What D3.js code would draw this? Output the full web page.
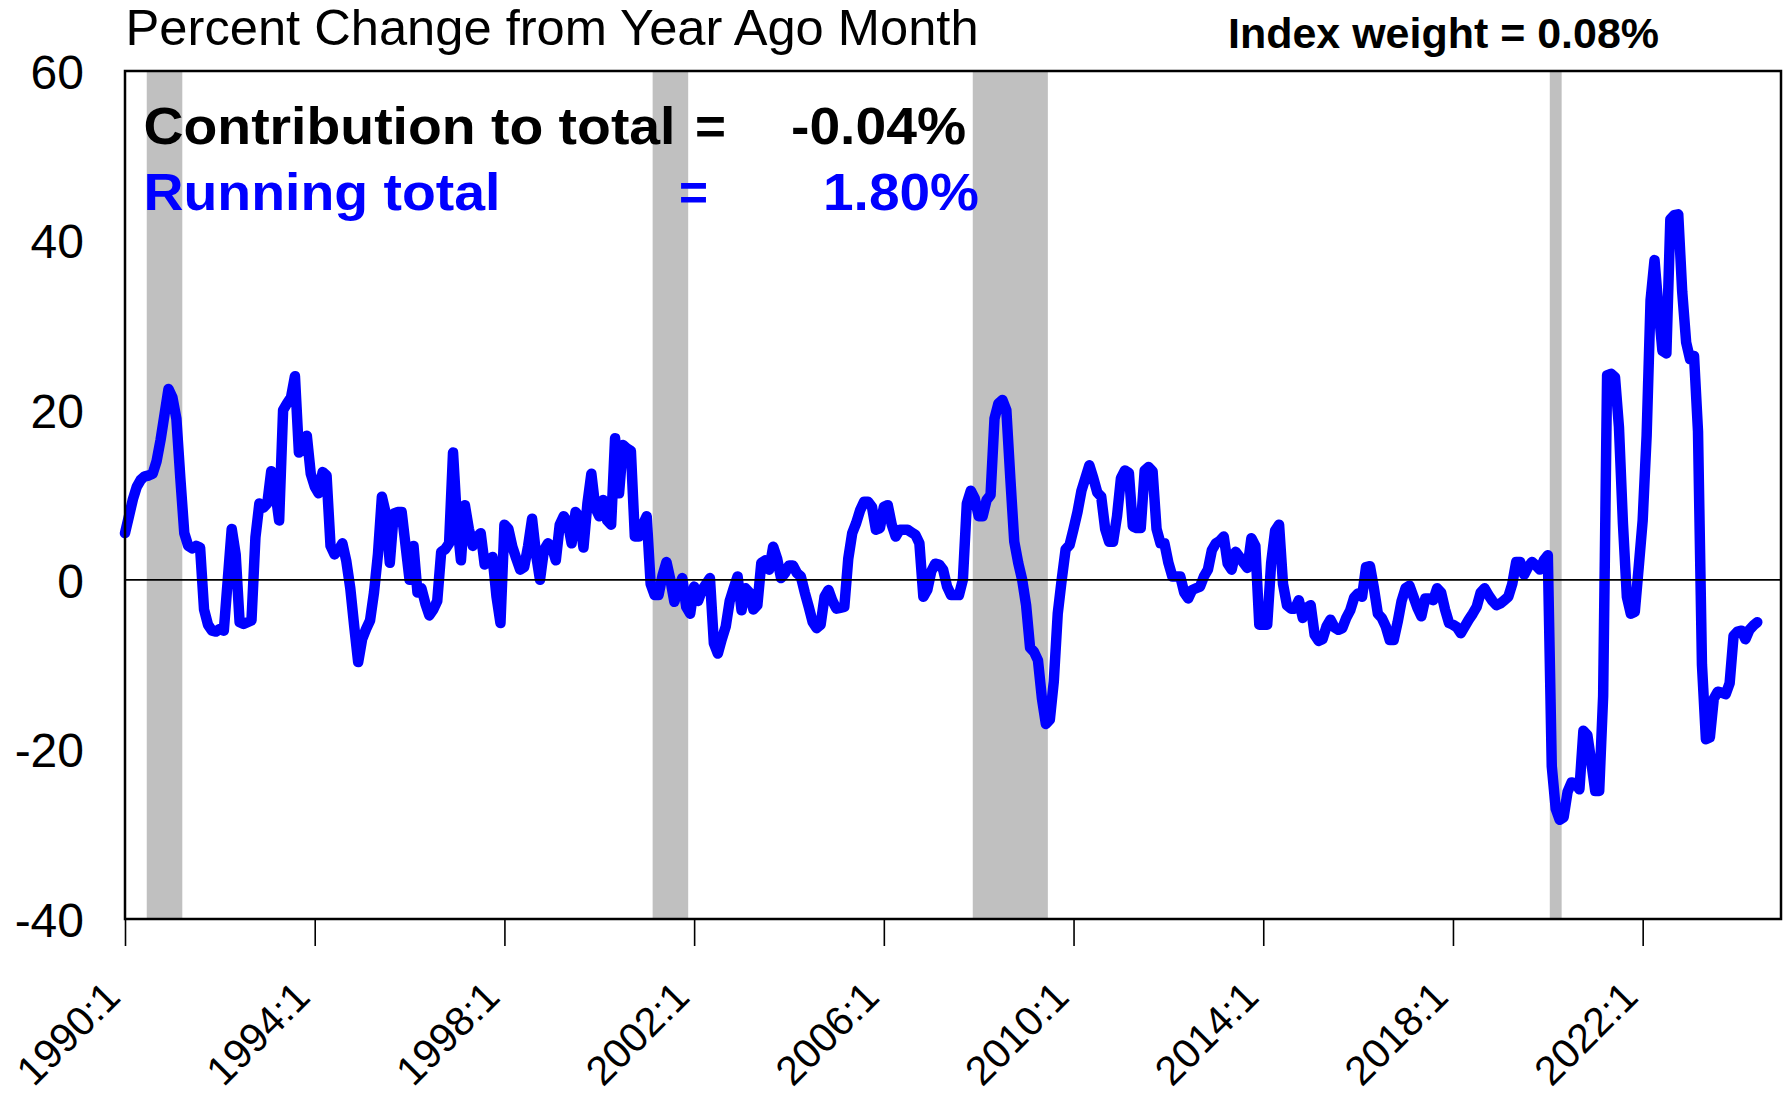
<!DOCTYPE html>
<html>
<head>
<meta charset="utf-8">
<script src="https://cdn.jsdelivr.net/npm/d3@7"></script>
<style>
  html, body { margin: 0; padding: 0; background: #ffffff; }
  svg { display: block; }
  text { font-family: "Liberation Sans", Arial, Helvetica, sans-serif; }
</style>
</head>
<body>
<svg id="chart" width="1788" height="1099"></svg>
<script>
// Year-over-year percent change, monthly, starting 1990:1
const startYear = 1990;
const values1990s = [
  5.5, 7.5, 9.5, 11, 11.8, 12.2, 12.3, 12.5, 14, 16.5, 19.5, 22.5,
  21.5, 19, 12, 5.5, 4.0, 3.7, 4.0, 3.8, -3.5, -5.3, -6, -6.1,
  -5.8, -6, 0, 6, 3, -5, -5.2, -5, -4.8, 5, 9, 8.5,
  9, 12.8, 10.5, 7, 20, 20.8, 21.5, 24, 15, 15.5, 17, 12.5,
  11, 10.2, 12.7, 12.3, 4, 3, 3.5, 4.3, 2.2, -1, -5.5, -9.7,
  -7, -5.8, -4.8, -1.5, 3, 9.8, 7.8, 2, 7.8, 8, 8, 4,
  0, 4, -1.5, -1, -2.8, -4.2, -3.5, -2.5, 3.3, 3.6, 4.3, 15,
  7, 2.3, 8.8, 6, 4, 5, 5.5, 1.8, 2.2, 2.7, -2, -5.1,
  6.5, 6, 3.9, 2.5, 1.2, 1.5, 4, 7.2, 3, 0, 3.5, 4.3,
  3.9, 2.3, 6.5, 7.5, 6.8, 4.3, 8, 7.4, 3.8, 9, 12.5, 8.5
];
const values2000s = [
  7.5, 9.4, 7, 6.5, 16.7, 10.2, 15.9, 15.5, 15.2, 5.1, 5.1, 6.5,
  7.5, -0.5, -1.8, -1.8, 0.5, 2.1, 0, -2.6, -1, 0.2, -3.2, -4.0,
  -0.8, -2.5, -1.2, -0.5, 0.2, -7.5, -8.7, -7, -5.5, -2.5, -1, 0.4,
  -3.6, -1, -1.5, -3.5, -3, 2, 2.3, 1.2, 3.9, 2.5, 0.2, 0.8,
  1.7, 1.7, 0.8, 0.4, -1.5, -3.2, -5, -5.7, -5.3, -2, -1.2, -2.5,
  -3.4, -3.3, -3.2, 2.5, 5.5, 6.7, 8.2, 9.2, 9.2, 8.6, 5.9, 6.1,
  8.6, 8.8, 6.5, 5.1, 5.9, 5.9, 5.9, 5.6, 5.3, 4.3, -2.0, -1.2,
  1.0, 1.9, 1.8, 1.2, -0.8, -1.8, -1.8, -1.8, 0, 9, 10.5, 9.6,
  7.5, 7.5, 9.4, 10, 19, 20.8, 21.2, 20, 12, 4.5, 2, 0,
  -3, -8, -8.5, -9.5, -14, -17, -16.5, -12, -4, 0, 3.6, 4.1
];
const values2010s = [
  6, 8, 10.5, 12, 13.5, 12, 10.3, 9.8, 6, 4.5, 4.5, 7.5,
  12, 12.9, 12.6, 6.3, 6.1, 6.1, 12.9, 13.3, 12.8, 6, 4.3, 4.3,
  2, 0.4, 0.4, 0.4, -1.5, -2.2, -1.2, -1, -0.8, 0.4, 1.2, 3.5,
  4.3, 4.6, 5.1, 1.9, 1.2, 3.3, 2.7, 2, 1.4, 4.9, 4, -5.3,
  -5.3, -5.3, 2, 5.8, 6.5, -0.5, -3, -3.4, -3.4, -2.4, -4.5, -3.3,
  -3, -6.5, -7.2, -7, -5.5, -4.7, -5.6, -5.9, -5.7, -4.5, -3.6, -2.1,
  -1.6, -2.0, 1.5, 1.6, -1, -4.0, -4.5, -5.5, -7.1, -7.1, -5, -2.5,
  -1, -0.7, -2, -3.3, -4.3, -2.2, -2.2, -2.4, -1, -1.5, -3.5, -5.1,
  -5.3, -5.6, -6.3, -5.5, -4.7, -4, -3.2, -1.5, -1, -1.8, -2.5, -3,
  -2.8, -2.4, -2, -0.5, 2.1, 2.1, 0.6, 1.5, 2.1, 1.7, 1.2, 2.3
];
const values2020s = [
  2.9, -22, -27, -28.3, -28, -25, -23.9, -24, -24.7, -17.8, -18.3, -21.5,
  -24.9, -24.9, -13.7, 24.1, 24.3, 23.9, 18, 6.7, -2, -4, -3.8, 1.5,
  7, 17, 33, 37.7, 32, 27, 26.7, 42.5, 43, 43.1, 34, 28,
  26, 26.4, 17.5, -10, -18.8, -18.6, -14, -13.2, -13.3, -13.5, -12.2, -6.6,
  -6.1, -6, -7, -5.9, -5.4, -5
];

// NBER recessions: [start year, start month, end year, end month]
const recessions = [
  [1990, 7, 1991, 3],
  [2001, 3, 2001, 11],
  [2007, 12, 2009, 6],
  [2020, 2, 2020, 4]
];

const yTicks = [60, 40, 20, 0, -20, -40];
const xTickYears = [1990, 1994, 1998, 2002, 2006, 2010, 2014, 2018, 2022];
const axisEndMonth = 419;   // 2024:12

const titleText = "Percent Change from Year Ago Month";
const weightText = "Index weight = 0.08%";
const contributionLabel = "Contribution to total";
const contributionValue = "-0.04%";
const runningLabel = "Running total";
const runningValue = "1.80%";

const series = [...values1990s, ...values2000s, ...values2010s, ...values2020s]
  .map((v, i) => ({ m: i, v: v }));
const monthIndex = (y, mo) => (y - startYear) * 12 + (mo - 1);

const plot = { left: 125, right: 1781, top: 71, bottom: 919 };
const svg = d3.select("#chart");

const x = d3.scaleLinear().domain([0, axisEndMonth]).range([plot.left, plot.right]);
const y = d3.scaleLinear().domain([-40, 60]).range([plot.bottom, plot.top]);

// recession shading
svg.append("g").selectAll("rect")
  .data(recessions)
  .join("rect")
  .attr("x", d => x(monthIndex(d[0], d[1]) - 0.5))
  .attr("width", d => x(monthIndex(d[2], d[3]) + 0.5) - x(monthIndex(d[0], d[1]) - 0.5))
  .attr("y", plot.top)
  .attr("height", plot.bottom - plot.top)
  .attr("fill", "#c0c0c0");

// data line
const line = d3.line().x(d => x(d.m)).y(d => y(d.v));
svg.append("path")
  .datum(series)
  .attr("d", line)
  .attr("fill", "none")
  .attr("stroke", "#0000ff")
  .attr("stroke-width", 10.5)
  .attr("stroke-linejoin", "round")
  .attr("stroke-linecap", "round");

// zero line
svg.append("line")
  .attr("x1", plot.left).attr("x2", plot.right)
  .attr("y1", y(0)).attr("y2", y(0))
  .attr("stroke", "#000").attr("stroke-width", 1.8);

// frame
svg.append("rect")
  .attr("x", plot.left).attr("y", plot.top)
  .attr("width", plot.right - plot.left).attr("height", plot.bottom - plot.top)
  .attr("fill", "none").attr("stroke", "#000").attr("stroke-width", 2.5);

// y axis labels (plain hyphen for negatives)
const yAxis = d3.axisLeft(y).tickValues(yTicks).tickSize(0).tickPadding(0).tickFormat(d => String(d));
const gy = svg.append("g").attr("transform", `translate(${plot.left - 41},0)`).call(yAxis);
gy.select(".domain").remove();
gy.selectAll("text")
  .attr("font-size", 48)
  .attr("fill", "#000")
  .attr("x", 0)
  .attr("dy", "0.36em")
  .style("font-family", '"Liberation Sans", Arial, sans-serif');

// x axis ticks and rotated labels
const xAxis = d3.axisBottom(x)
  .tickValues(xTickYears.map(yr => monthIndex(yr, 1)))
  .tickSize(27)
  .tickFormat(m => `${startYear + m / 12}:1`);
const gx = svg.append("g").attr("transform", `translate(0,${plot.bottom})`).call(xAxis);
gx.select(".domain").remove();
gx.selectAll(".tick line").attr("stroke", "#000").attr("stroke-width", 1.6);
gx.selectAll("text")
  .attr("font-size", 41)
  .attr("fill", "#000")
  .attr("text-anchor", "end")
  .attr("y", 0).attr("dy", 0)
  .attr("transform", "translate(-3,80) rotate(-45)")
  .style("font-family", '"Liberation Sans", Arial, sans-serif');

// text helper: positioned label stretched to a measured run length
function label(txt, xPos, yPos, size, weight, color, len) {
  const t = svg.append("text")
    .attr("x", xPos).attr("y", yPos)
    .attr("font-size", size).attr("font-weight", weight)
    .attr("fill", color).text(txt);
  if (len) t.attr("textLength", len).attr("lengthAdjust", "spacingAndGlyphs");
  return t;
}

// headings
label(titleText, 125.6, 45, 50, "normal", "#000", 853);
label(weightText, 1228, 48, 42, "bold", "#000", 431);

// annotation block
label(contributionLabel, 143.5, 144, 52, "bold", "#000", 532);
label("=", 695, 144, 52, "bold", "#000", 31);
label(contributionValue, 791, 144, 52, "bold", "#000", 175);

label(runningLabel, 143.5, 210, 52, "bold", "#0000ff", 357);
label("=", 679, 210, 52, "bold", "#0000ff", 29);
label(runningValue, 823, 210, 52, "bold", "#0000ff", 156);
</script>
</body>
</html>
